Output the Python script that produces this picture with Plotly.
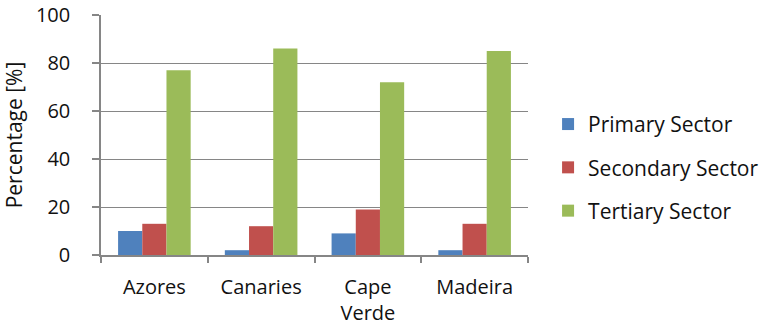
import plotly.graph_objects as go

categories = ["Azores", "Canaries", "Cape<br>Verde", "Madeira"]
primary = [10, 2, 9, 2]
secondary = [13, 12, 19, 13]
tertiary = [77, 86, 72, 85]
series_names = ["Primary Sector", "Secondary Sector", "Tertiary Sector"]
colors = ["#4F81BD", "#C0504D", "#9BBB59"]
y_ticks = [0, 20, 40, 60, 80, 100]

FONT = "Open Sans, sans-serif"
FS = 21
fig = go.Figure()
for i, (name, vals) in enumerate(zip(series_names, [primary, secondary, tertiary])):
    fig.add_trace(go.Bar(x=categories, y=vals, name=name, marker_color=colors[i],
                         marker_line_width=0, legendgroup=name))

fig.update_layout(
    width=763, height=328,
    margin=dict(l=101, r=235, t=15, b=73, autoexpand=False),
    paper_bgcolor="white", plot_bgcolor="white",
    barmode="group", bargap=0.32, bargroupgap=0,
    font=dict(family=FONT, size=FS, color="#111111"),
    showlegend=True,
    legend=dict(x=1.047, xanchor="left", y=0.365, yanchor="middle",
                traceorder="grouped", tracegroupgap=13,
                font=dict(family=FONT, size=FS, color="#111111"),
                bgcolor="rgba(0,0,0,0)"),
    xaxis=dict(showline=True, linecolor="#868686", linewidth=1.5,
               ticks="outside", tickson="boundaries", ticklen=6,
               tickcolor="#868686", tickwidth=1.5, ticklabelstandoff=13,
               showgrid=False, tickfont=dict(size=20), automargin=False),
    yaxis=dict(range=[0, 100], tickvals=y_ticks, showline=True,
               linecolor="#868686", linewidth=1.5,
               ticks="outside", ticklen=7, tickcolor="#868686", tickwidth=1.5,
               ticklabelstandoff=18, automargin=False,
               showgrid=True, gridcolor="#868686", gridwidth=1.2,
               zeroline=False, tickfont=dict(size=20),
               title=dict(text="Percentage [%]", font=dict(size=FS), standoff=12)),
)
fig.write_html("out.html")
